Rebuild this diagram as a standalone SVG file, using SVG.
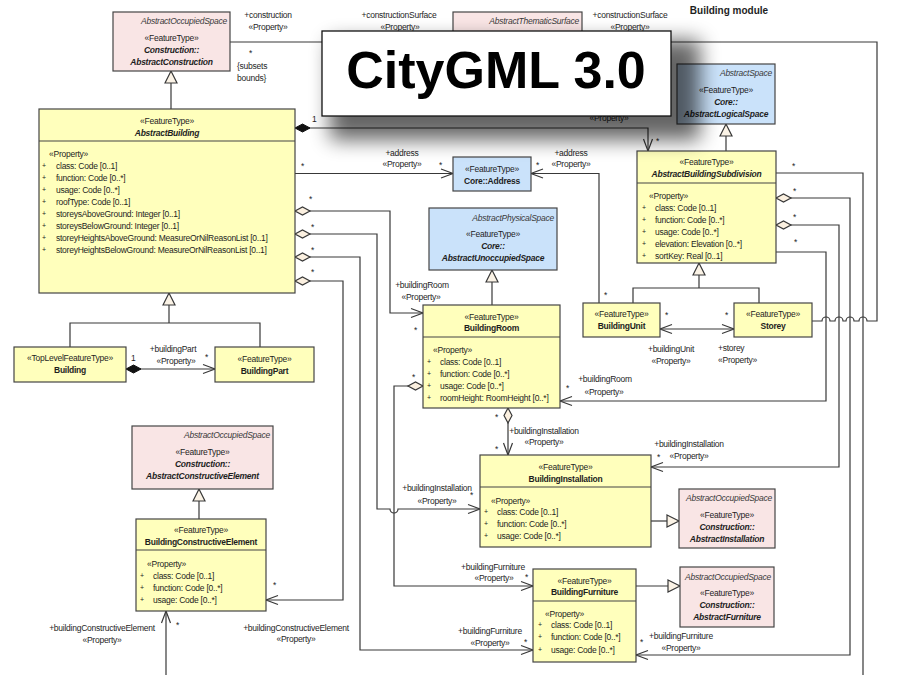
<svg xmlns="http://www.w3.org/2000/svg" width="922" height="675" viewBox="0 0 922 675">
  <style>
    .t { font-family: "Liberation Sans", Arial, sans-serif; font-size: 8.5px; letter-spacing: -0.25px; fill: #1e1e1e; }
    .c { text-anchor: middle; }
    .r { text-anchor: end; }
    .bd { font-weight: bold; }
    .it { font-style: italic; }
    .st { fill: #3a3a3a; }
    .bu { font-size: 7px; }
    .box { stroke: #454545; stroke-width: 1.2; }
    .y { fill: #FFFFBC; }
    .p { fill: #F9E5E5; }
    .b { fill: #CAE2FA; }
    .div { stroke: #454545; stroke-width: 1.2; }
    .ln { fill: none; stroke: #383838; stroke-width: 1.2; }
    .gen { marker-end: url(#tri); }
    .nav { marker-end: url(#arr); }
    .agg { marker-start: url(#odia); }
    .cmp { marker-start: url(#fdia); }
  </style>
  <defs>
    <marker id="arr" markerUnits="userSpaceOnUse" markerWidth="14" markerHeight="12" refX="12" refY="5" orient="auto" overflow="visible">
      <path d="M0,0.5 L12,5 L0,9.5" fill="none" stroke="#383838" stroke-width="1.2"/>
    </marker>
    <marker id="tri" markerUnits="userSpaceOnUse" markerWidth="14" markerHeight="14" refX="12" refY="6" orient="auto" overflow="visible">
      <path d="M0,0 L12,6 L0,12 Z" fill="#FBF3E6" stroke="#383838" stroke-width="1.2"/>
    </marker>
    <marker id="odia" markerUnits="userSpaceOnUse" markerWidth="16" markerHeight="10" refX="0" refY="4" orient="auto" overflow="visible">
      <path d="M0,4 L7.5,0 L15,4 L7.5,8 Z" fill="#FBF0E0" stroke="#383838" stroke-width="1.2"/>
    </marker>
    <marker id="fdia" markerUnits="userSpaceOnUse" markerWidth="16" markerHeight="10" refX="0" refY="4" orient="auto" overflow="visible">
      <path d="M0,4 L7.5,0 L15,4 L7.5,8 Z" fill="#111" stroke="#111" stroke-width="1"/>
    </marker>
    <filter id="soft" x="-25%" y="-40%" width="150%" height="180%">
      <feGaussianBlur stdDeviation="10"/>
    </filter>
  </defs>

  <rect width="922" height="675" fill="#fff"/>

  <text class="t bd" x="729" y="14" style="font-size:10px;letter-spacing:0" text-anchor="middle">Building module</text>

  <!-- connectors -->
  <g id="connectors">
    <path class="ln gen" d="M171,109 V71"/>
    <path class="ln" d="M230,42 H877 V321 H867 A4,4 0 0 0 859,321 H854 A4,4 0 0 0 846,321 H843 A4,4 0 0 0 835,321 H830 A4,4 0 0 0 822,321 H812"/>
    <path class="ln cmp nav" d="M295,128 H648 V151"/>
    <path class="ln nav" d="M295,173.5 H453"/>
    <path class="ln nav" d="M599,303 V173.5 H531"/>
    <path class="ln agg nav" d="M295,211 H390 V313 H423"/>
    <path class="ln agg nav" d="M295,234 H377 V509 H390 A4,4 0 0 0 398,509 H480"/>
    <path class="ln agg nav" d="M295,257 H360 V650 H533"/>
    <path class="ln agg nav" d="M295,281 H343 V600 H266"/>
    <path class="ln agg nav" d="M423,386 H394 V586 H533"/>
    <path class="ln agg nav" d="M508,408 V455"/>
    <path class="ln" d="M776,173 H863 V675"/>
    <path class="ln agg nav" d="M776,198 H850 V655 H636"/>
    <path class="ln agg nav" d="M776,225 H839 V467 H651"/>
    <path class="ln nav" d="M776,252 H826 V401 H560"/>
    <path class="ln gen" d="M726,151 V124"/>
    <path class="ln" d="M633,303 V288 H759 V303"/>
    <path class="ln gen" d="M699,288 V263"/>
    <path class="ln nav" d="M697,329 H660"/>
    <path class="ln nav" d="M697,329 H734"/>
    <path class="ln" d="M70,347 V323 H260 V347"/>
    <path class="ln gen" d="M169,323 V293"/>
    <path class="ln cmp nav" d="M126,369 H215"/>
    <path class="ln gen" d="M199,519 V489"/>
    <path class="ln nav" d="M166,675 V611"/>
    <path class="ln gen" d="M492,305 V270"/>
    <path class="ln gen" d="M651,521 H679"/>
    <path class="ln gen" d="M636,586 H680"/>
  </g>

  <!-- connector labels -->
  <g id="labels">
    <text class="t c" x="268" y="18">+construction</text>
    <text class="t c" x="268" y="30">«Property»</text>
    <text class="t" x="249" y="56">*</text>
    <text class="t" x="237" y="69">{subsets</text>
    <text class="t" x="237" y="81">bounds}</text>
    <text class="t c" x="399" y="18">+constructionSurface</text>
    <text class="t c" x="400" y="30">«Property»</text>
    <text class="t c" x="630" y="18">+constructionSurface</text>
    <text class="t c" x="630" y="30">«Property»</text>

    <text class="t" x="312" y="122">1</text>
    <text class="t c" x="609" y="121">«Property»</text>
    <text class="t" x="656" y="144">*</text>

    <text class="t" x="301" y="169">*</text>
    <text class="t c" x="402" y="156">+address</text>
    <text class="t c" x="402" y="167">«Property»</text>
    <text class="t" x="439" y="168">*</text>
    <text class="t" x="536" y="168">*</text>
    <text class="t c" x="571" y="156">+address</text>
    <text class="t c" x="571" y="167">«Property»</text>
    <text class="t" x="604" y="298">*</text>

    <text class="t" x="309" y="202">*</text>
    <text class="t" x="311" y="230">*</text>
    <text class="t" x="311" y="253">*</text>
    <text class="t" x="311" y="275">*</text>

    <text class="t c" x="422" y="288">+buildingRoom</text>
    <text class="t c" x="421" y="300">«Property»</text>
    <text class="t" x="414" y="333">*</text>

    <text class="t c" x="437" y="491">+buildingInstallation</text>
    <text class="t c" x="437" y="504">«Property»</text>
    <text class="t" x="470" y="498">*</text>

    <text class="t c" x="493" y="570">+buildingFurniture</text>
    <text class="t c" x="494" y="581">«Property»</text>
    <text class="t" x="525" y="580">*</text>

    <text class="t c" x="490" y="634">+buildingFurniture</text>
    <text class="t c" x="490" y="646">«Property»</text>
    <text class="t" x="524" y="645">*</text>

    <text class="t c" x="296" y="631">+buildingConstructiveElement</text>
    <text class="t c" x="296" y="642">«Property»</text>
    <text class="t" x="273" y="588">*</text>

    <text class="t c" x="102" y="631">+buildingConstructiveElement</text>
    <text class="t c" x="102" y="643">«Property»</text>
    <text class="t" x="176" y="628">*</text>

    <text class="t" x="412" y="380">*</text>
    <text class="t" x="495" y="420">*</text>
    <text class="t" x="495" y="452">*</text>
    <text class="t c" x="544" y="434">+buildingInstallation</text>
    <text class="t c" x="544" y="445">«Property»</text>

    <text class="t" x="792" y="169">*</text>
    <text class="t" x="793" y="194">*</text>
    <text class="t" x="793" y="220">*</text>
    <text class="t" x="794" y="245">*</text>

    <text class="t c" x="605" y="382">+buildingRoom</text>
    <text class="t c" x="604" y="395">«Property»</text>
    <text class="t" x="566" y="391">*</text>

    <text class="t c" x="689" y="447">+buildingInstallation</text>
    <text class="t c" x="689" y="459">«Property»</text>
    <text class="t" x="657" y="460">*</text>

    <text class="t c" x="681" y="639">+buildingFurniture</text>
    <text class="t c" x="681" y="651">«Property»</text>
    <text class="t" x="640" y="645">*</text>

    <text class="t" x="665" y="318">*</text>
    <text class="t" x="725" y="318">*</text>
    <text class="t c" x="671" y="352">+buildingUnit</text>
    <text class="t c" x="671" y="364">«Property»</text>
    <text class="t" x="718" y="351">+storey</text>
    <text class="t" x="718" y="363">«Property»</text>

    <text class="t" x="131" y="361">1</text>
    <text class="t c" x="173" y="352">+buildingPart</text>
    <text class="t c" x="176" y="364">«Property»</text>
    <text class="t" x="205" y="360">*</text>
  </g>

  <!-- nodes -->
  <g id="AbstractConstruction">
    <rect class="box p" x="113" y="12" width="117" height="59"/>
    <text class="t it r st" x="227" y="24">AbstractOccupiedSpace</text>
    <text class="t c" x="171.5" y="41">«FeatureType»</text>
    <text class="t c bd it" x="171.5" y="53">Construction::</text>
    <text class="t c bd it" x="171.5" y="65">AbstractConstruction</text>
  </g>

  <g id="AbstractThematicSurface">
    <rect class="box p" x="453" y="12" width="129" height="30"/>
    <text class="t it r st" x="579" y="24">AbstractThematicSurface</text>
  </g>

  <g id="AbstractBuilding">
    <rect class="box y" x="39" y="109" width="256" height="184"/>
    <line class="div" x1="39" y1="141" x2="295" y2="141"/>
    <text class="t c" x="167" y="124">«FeatureType»</text>
    <text class="t c bd it" x="167" y="136">AbstractBuilding</text>
    <text class="t" x="49" y="157">«Property»</text>
    <g class="t bu">
      <text x="42" y="168">+</text><text x="42" y="180">+</text><text x="42" y="192">+</text><text x="42" y="204">+</text>
      <text x="42" y="216">+</text><text x="42" y="228">+</text><text x="42" y="240">+</text><text x="42" y="252">+</text>
    </g>
    <text class="t" x="56" y="169">class: Code [0..1]</text>
    <text class="t" x="56" y="181">function: Code [0..*]</text>
    <text class="t" x="56" y="193">usage: Code [0..*]</text>
    <text class="t" x="56" y="205">roofType: Code [0..1]</text>
    <text class="t" x="56" y="217">storeysAboveGround: Integer [0..1]</text>
    <text class="t" x="56" y="229">storeysBelowGround: Integer [0..1]</text>
    <text class="t" x="56" y="241">storeyHeightsAboveGround: MeasureOrNilReasonList [0..1]</text>
    <text class="t" x="56" y="253">storeyHeightsBelowGround: MeasureOrNilReasonList [0..1]</text>
  </g>

  <g id="Building">
    <rect class="box y" x="14" y="347" width="112" height="35"/>
    <text class="t c" x="70" y="361">«TopLevelFeatureType»</text>
    <text class="t c bd" x="70" y="373">Building</text>
  </g>

  <g id="BuildingPart">
    <rect class="box y" x="215" y="347" width="99" height="35"/>
    <text class="t c" x="264.5" y="362">«FeatureType»</text>
    <text class="t c bd" x="264.5" y="374">BuildingPart</text>
  </g>

  <g id="AbstractConstructiveElement">
    <rect class="box p" x="132" y="426" width="141" height="63"/>
    <text class="t it r st" x="270" y="438">AbstractOccupiedSpace</text>
    <text class="t c" x="202.5" y="455">«FeatureType»</text>
    <text class="t c bd it" x="202.5" y="467">Construction::</text>
    <text class="t c bd it" x="202.5" y="479">AbstractConstructiveElement</text>
  </g>

  <g id="BuildingConstructiveElement">
    <rect class="box y" x="136" y="519" width="130" height="92"/>
    <line class="div" x1="136" y1="550" x2="266" y2="550"/>
    <text class="t c" x="201" y="533">«FeatureType»</text>
    <text class="t c bd" x="201" y="545">BuildingConstructiveElement</text>
    <text class="t" x="147" y="567">«Property»</text>
    <g class="t bu"><text x="140" y="578">+</text><text x="140" y="590">+</text><text x="140" y="602">+</text></g>
    <text class="t" x="153" y="579">class: Code [0..1]</text>
    <text class="t" x="153" y="591">function: Code [0..*]</text>
    <text class="t" x="153" y="603">usage: Code [0..*]</text>
  </g>

  <g id="Address">
    <rect class="box b" x="453" y="157" width="78" height="34"/>
    <text class="t c" x="492" y="172">«FeatureType»</text>
    <text class="t c bd" x="492" y="184">Core::Address</text>
  </g>

  <g id="AbstractUnoccupiedSpace">
    <rect class="box b" x="429" y="208" width="128" height="62"/>
    <text class="t it r st" x="554" y="221">AbstractPhysicalSpace</text>
    <text class="t c" x="493" y="237">«FeatureType»</text>
    <text class="t c bd it" x="493" y="249">Core::</text>
    <text class="t c bd it" x="493" y="261">AbstractUnoccupiedSpace</text>
  </g>

  <g id="BuildingRoom">
    <rect class="box y" x="423" y="305" width="137" height="103"/>
    <line class="div" x1="423" y1="337" x2="560" y2="337"/>
    <text class="t c" x="491.5" y="320">«FeatureType»</text>
    <text class="t c bd" x="491.5" y="331">BuildingRoom</text>
    <text class="t" x="433" y="353">«Property»</text>
    <g class="t bu"><text x="427" y="364">+</text><text x="427" y="376">+</text><text x="427" y="388">+</text><text x="427" y="400">+</text></g>
    <text class="t" x="440" y="365">class: Code [0..1]</text>
    <text class="t" x="440" y="377">function: Code [0..*]</text>
    <text class="t" x="440" y="389">usage: Code [0..*]</text>
    <text class="t" x="440" y="401">roomHeight: RoomHeight [0..*]</text>
  </g>

  <g id="BuildingInstallation">
    <rect class="box y" x="480" y="455" width="171" height="92"/>
    <line class="div" x1="480" y1="487" x2="651" y2="487"/>
    <text class="t c" x="565.5" y="470">«FeatureType»</text>
    <text class="t c bd" x="565.5" y="482">BuildingInstallation</text>
    <text class="t" x="491" y="504">«Property»</text>
    <g class="t bu"><text x="484" y="514">+</text><text x="484" y="526">+</text><text x="484" y="538">+</text></g>
    <text class="t" x="497" y="515">class: Code [0..1]</text>
    <text class="t" x="497" y="527">function: Code [0..*]</text>
    <text class="t" x="497" y="539">usage: Code [0..*]</text>
  </g>

  <g id="AbstractInstallation">
    <rect class="box p" x="679" y="489" width="96" height="59"/>
    <text class="t it r st" x="772" y="501">AbstractOccupiedSpace</text>
    <text class="t c" x="727" y="518">«FeatureType»</text>
    <text class="t c bd it" x="727" y="530">Construction::</text>
    <text class="t c bd it" x="727" y="542">AbstractInstallation</text>
  </g>

  <g id="BuildingFurniture">
    <rect class="box y" x="533" y="569" width="103" height="93"/>
    <line class="div" x1="533" y1="601" x2="636" y2="601"/>
    <text class="t c" x="584.5" y="584">«FeatureType»</text>
    <text class="t c bd" x="584.5" y="595">BuildingFurniture</text>
    <text class="t" x="545" y="617">«Property»</text>
    <g class="t bu"><text x="538" y="627">+</text><text x="538" y="639">+</text><text x="538" y="652">+</text></g>
    <text class="t" x="551" y="628">class: Code [0..1]</text>
    <text class="t" x="551" y="640">function: Code [0..*]</text>
    <text class="t" x="551" y="653">usage: Code [0..*]</text>
  </g>

  <g id="AbstractFurniture">
    <rect class="box p" x="680" y="567" width="94" height="60"/>
    <text class="t it r st" x="771" y="580">AbstractOccupiedSpace</text>
    <text class="t c" x="727" y="596">«FeatureType»</text>
    <text class="t c bd it" x="727" y="608">Construction::</text>
    <text class="t c bd it" x="727" y="620">AbstractFurniture</text>
  </g>

  <g id="AbstractLogicalSpace">
    <rect class="box b" x="677" y="64" width="98" height="60"/>
    <text class="t it r st" x="772" y="76">AbstractSpace</text>
    <text class="t c" x="726" y="93">«FeatureType»</text>
    <text class="t c bd it" x="726" y="105">Core::</text>
    <text class="t c bd it" x="726" y="117">AbstractLogicalSpace</text>
  </g>

  <g id="AbstractBuildingSubdivision">
    <rect class="box y" x="637" y="151" width="139" height="112"/>
    <line class="div" x1="637" y1="183" x2="776" y2="183"/>
    <text class="t c" x="706.5" y="165">«FeatureType»</text>
    <text class="t c bd it" x="706.5" y="177">AbstractBuildingSubdivision</text>
    <text class="t" x="649" y="199">«Property»</text>
    <g class="t bu"><text x="642" y="210">+</text><text x="642" y="222">+</text><text x="642" y="234">+</text><text x="642" y="246">+</text><text x="642" y="258">+</text></g>
    <text class="t" x="655" y="211">class: Code [0..1]</text>
    <text class="t" x="655" y="223">function: Code [0..*]</text>
    <text class="t" x="655" y="235">usage: Code [0..*]</text>
    <text class="t" x="655" y="247">elevation: Elevation [0..*]</text>
    <text class="t" x="655" y="259">sortKey: Real [0..1]</text>
  </g>

  <g id="BuildingUnit">
    <rect class="box y" x="583" y="303" width="77" height="34"/>
    <text class="t c" x="621.5" y="317">«FeatureType»</text>
    <text class="t c bd" x="621.5" y="329">BuildingUnit</text>
  </g>

  <g id="Storey">
    <rect class="box y" x="734" y="303" width="78" height="34"/>
    <text class="t c" x="773" y="317">«FeatureType»</text>
    <text class="t c bd" x="773" y="329">Storey</text>
  </g>

  <!-- title banner with its drop shadow -->
  <g id="title">
    <rect x="330" y="40" width="370" height="100" fill="#000" opacity="0.6" filter="url(#soft)"/>
    <rect x="322" y="31" width="349" height="85" fill="#fff" stroke="#111" stroke-width="1.3"/>
    <text x="496" y="88" text-anchor="middle" style="font-family:'Liberation Sans', Arial, sans-serif;font-size:52px;font-weight:bold;fill:#000">CityGML 3.0</text>
  </g>
</svg>
